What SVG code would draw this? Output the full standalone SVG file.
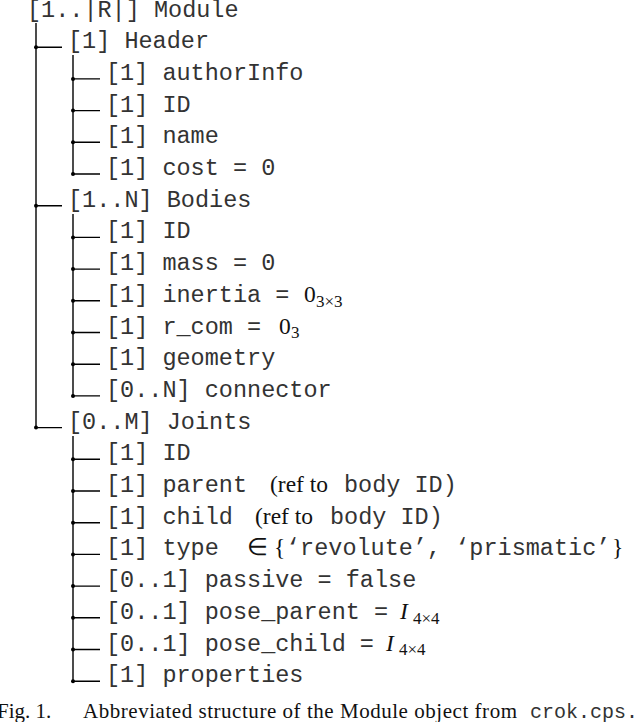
<svg xmlns="http://www.w3.org/2000/svg" width="640" height="722" viewBox="0 0 640 722">
<style>
.t{font-family:"Liberation Mono","Courier New",monospace;font-size:23.5px;fill:#333}
.m{font-family:"Liberation Serif","Times New Roman",serif;font-size:23.5px;fill:#111}
.s{font-family:"Liberation Serif","Times New Roman",serif;font-size:17px;fill:#111}
.c{font-family:"Liberation Serif","Times New Roman",serif;font-size:21px;fill:#111}
.cm{font-family:"Liberation Mono","Courier New",monospace;font-size:20px;fill:#333}
.ln{stroke:#000;stroke-width:1.4;fill:none}
.d{fill:#000}
</style>
<rect width="640" height="722" fill="#fff"/>
<g id="connectors">
<path class="ln" d="M36 23V427.6M36 47.2H62M36 205.7H62M36 427.6H62"/>
<path class="ln" d="M73 55V174M73 78.9H100M73 110.6H100M73 142.3H100M73 174H100"/>
<path class="ln" d="M73 214V395.9M73 237.4H100M73 269.1H100M73 300.8H100M73 332.5H100M73 364.2H100M73 395.9H100"/>
<path class="ln" d="M73 436V681.2M73 459.3H100M73 491H100M73 522.7H100M73 554.4H100M73 586.1H100M73 617.8H100M73 649.5H100M73 681.2H100"/>
<g class="d">
<circle cx="36" cy="47.2" r="2"/><circle cx="36" cy="205.7" r="2"/><circle cx="36" cy="427.6" r="2"/>
<circle cx="73" cy="78.9" r="2"/><circle cx="73" cy="110.6" r="2"/><circle cx="73" cy="142.3" r="2"/><circle cx="73" cy="174" r="2"/>
<circle cx="73" cy="237.4" r="2"/><circle cx="73" cy="269.1" r="2"/><circle cx="73" cy="300.8" r="2"/><circle cx="73" cy="332.5" r="2"/><circle cx="73" cy="364.2" r="2"/><circle cx="73" cy="395.9" r="2"/>
<circle cx="73" cy="459.3" r="2"/><circle cx="73" cy="491" r="2"/><circle cx="73" cy="522.7" r="2"/><circle cx="73" cy="554.4" r="2"/><circle cx="73" cy="586.1" r="2"/><circle cx="73" cy="617.8" r="2"/><circle cx="73" cy="649.5" r="2"/><circle cx="73" cy="681.2" r="2"/>
</g>
</g>
<g id="module"><text class="t" x="27" y="17" xml:space="preserve">[1..|R|] Module</text></g>
<g id="header"><text class="t" x="68" y="48.2" xml:space="preserve">[1] Header</text></g>
<g id="header-authorInfo"><text class="t" x="106" y="79.9" xml:space="preserve">[1] authorInfo</text></g>
<g id="header-id"><text class="t" x="106" y="111.6" xml:space="preserve">[1] ID</text></g>
<g id="header-name"><text class="t" x="106" y="143.3" xml:space="preserve">[1] name</text></g>
<g id="header-cost"><text class="t" x="106" y="175" xml:space="preserve">[1] cost = 0</text></g>
<g id="bodies"><text class="t" x="68" y="206.7" xml:space="preserve">[1..N] Bodies</text></g>
<g id="bodies-id"><text class="t" x="106" y="238.4" xml:space="preserve">[1] ID</text></g>
<g id="bodies-mass"><text class="t" x="106" y="270.1" xml:space="preserve">[1] mass = 0</text></g>
<g id="bodies-inertia"><text class="t" x="106" y="301.8" xml:space="preserve">[1] inertia =</text><text class="m" x="304" y="301.8">0</text><text class="s" x="316" y="306.5">3×3</text></g>
<g id="bodies-rcom"><text class="t" x="106" y="333.5" xml:space="preserve">[1] r_com =</text><text class="m" x="279" y="333.5">0</text><text class="s" x="291" y="338.2">3</text></g>
<g id="bodies-geometry"><text class="t" x="106" y="365.2" xml:space="preserve">[1] geometry</text></g>
<g id="bodies-connector"><text class="t" x="106" y="396.9" xml:space="preserve">[0..N] connector</text></g>
<g id="joints"><text class="t" x="68" y="428.6" xml:space="preserve">[0..M] Joints</text></g>
<g id="joints-id"><text class="t" x="106" y="460.3" xml:space="preserve">[1] ID</text></g>
<g id="joints-parent"><text class="t" x="106" y="492" xml:space="preserve">[1] parent</text><text class="m" x="270" y="492">(ref to</text><text class="t" x="344" y="492" xml:space="preserve">body ID)</text></g>
<g id="joints-child"><text class="t" x="106" y="523.7" xml:space="preserve">[1] child</text><text class="m" x="255" y="523.7">(ref to</text><text class="t" x="330" y="523.7" xml:space="preserve">body ID)</text></g>
<g id="joints-type"><text class="t" x="106" y="555.4" xml:space="preserve">[1] type</text><text class="m" x="247" y="555.4">∈</text><text class="m" x="274" y="555.4">{</text><text class="t" x="286" y="555.4" xml:space="preserve">‘revolute’, ‘prismatic’</text><text class="m" x="612" y="555.4">}</text></g>
<g id="joints-passive"><text class="t" x="106" y="587.1" xml:space="preserve">[0..1] passive = false</text></g>
<g id="joints-pose-parent"><text class="t" x="106" y="618.8" xml:space="preserve">[0..1] pose_parent =</text><text class="m" x="400" y="618.8" font-style="italic">I</text><text class="s" x="413" y="623.5">4×4</text></g>
<g id="joints-pose-child"><text class="t" x="106" y="650.5" xml:space="preserve">[0..1] pose_child =</text><text class="m" x="386" y="650.5" font-style="italic">I</text><text class="s" x="399" y="655.2">4×4</text></g>
<g id="joints-properties"><text class="t" x="106" y="682.2" xml:space="preserve">[1] properties</text></g>
<g id="caption"><text class="c" x="-3" y="718">Fig. 1.</text><text class="c" x="83" y="718" textLength="434" lengthAdjust="spacing">Abbreviated structure of the Module object from</text><text class="cm" x="530" y="718">crok.cps.</text></g>
</svg>
